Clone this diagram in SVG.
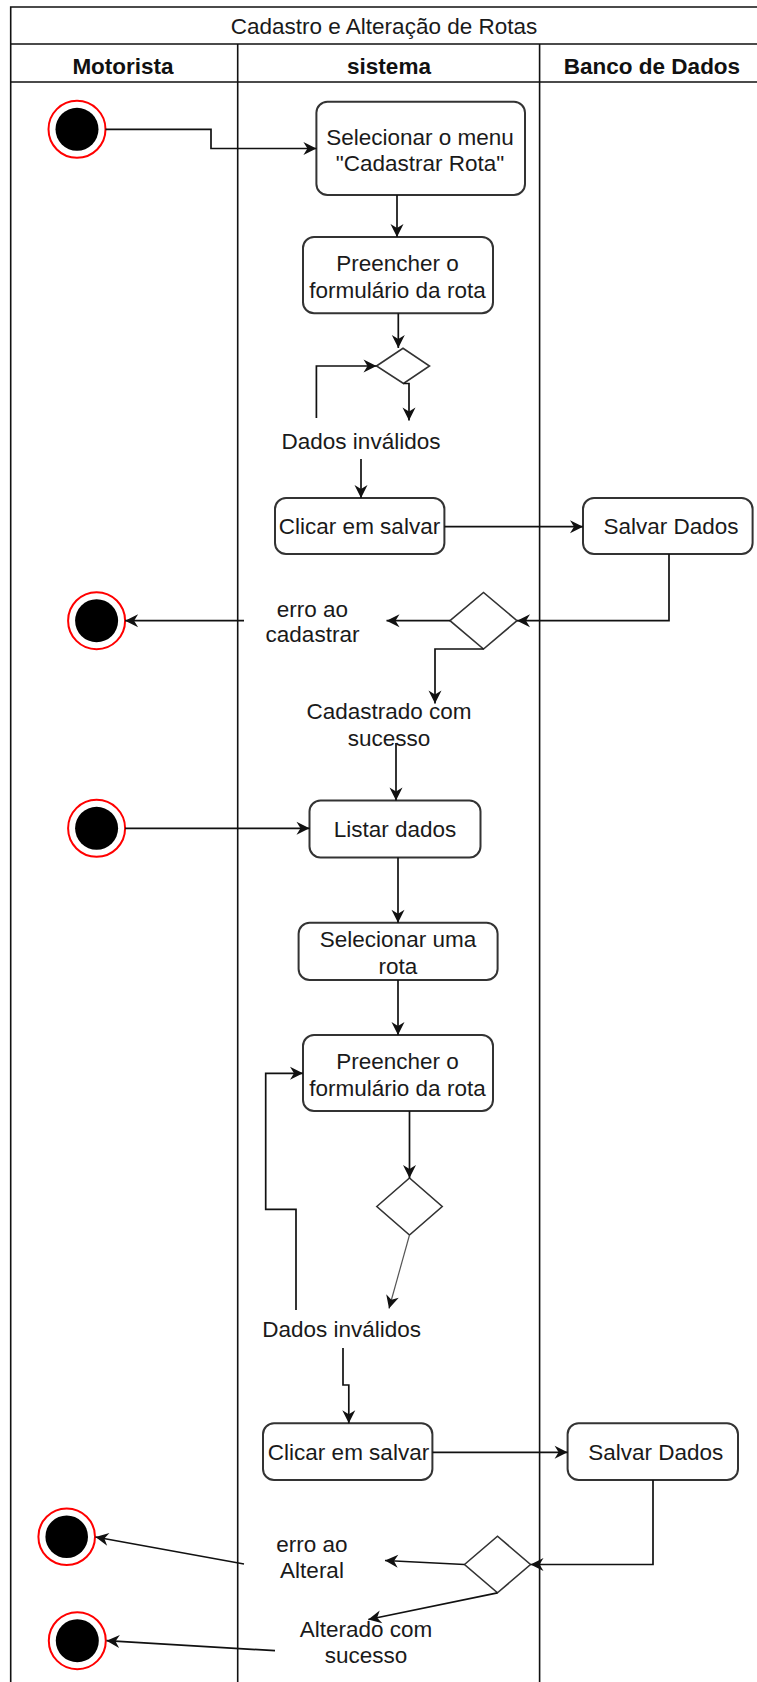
<svg xmlns="http://www.w3.org/2000/svg" width="757" height="1682" viewBox="0 0 757 1682">
<style>
text{font-family:"Liberation Sans",Arial,sans-serif;font-size:22.5px;fill:#1a1a1a;text-anchor:middle;dominant-baseline:central}
.hdr{font-weight:bold;fill:#111}
.lane{stroke:#111;stroke-width:1.6;fill:none}
.box{fill:#fff;stroke:#333;stroke-width:2}
.dia{fill:#fff;stroke:#333;stroke-width:1.6}
.ring{fill:#fff;stroke:#ff0000;stroke-width:2}
.dot{fill:#000}
.c{fill:none;stroke:#111;stroke-width:1.7;marker-end:url(#ah)}
.thin{fill:none;stroke:#555;stroke-width:1.2;marker-end:url(#ah)}
</style>
<defs>
<marker id="ah" markerUnits="userSpaceOnUse" markerWidth="16" markerHeight="16" refX="13" refY="6.5" orient="auto" overflow="visible">
<path d="M0,0 L13,6.5 L0,13 L4,6.5 z" fill="#111"/>
</marker>
</defs>
<rect width="757" height="1682" fill="#fff"/>
<g id="pool">
<path class="lane" d="M10.7,1682 V7 H757 M10.7,44 H757 M10.7,82 H757 M237.7,44 V1682 M539.6,44 V1682"/>
<text x="384" y="26">Cadastro e Alteração de Rotas</text>
<text class="hdr" x="123" y="66">Motorista</text>
<text class="hdr" x="389" y="66">sistema</text>
<text class="hdr" x="652" y="66">Banco de Dados</text>
</g>
<g id="start1"><circle class="ring" cx="77" cy="129.3" r="28.5"/><circle class="dot" cx="77" cy="129.3" r="21.5"/></g>
<g id="n1"><rect class="box" x="316.4" y="101.7" width="208.6" height="93.3" rx="11"/><text x="420" y="137">Selecionar o menu</text><text x="420" y="163">"Cadastrar Rota"</text></g>
<g id="n2"><rect class="box" x="303" y="237" width="190" height="76.3" rx="11"/><text x="397.5" y="263.3">Preencher o</text><text x="397.5" y="290">formulário da rota</text></g>
<g id="d1"><polygon class="dia" points="376.5,366 403,348.3 429.5,366 403.5,383.5"/></g>
<g id="l1"><text x="361" y="441.5">Dados inválidos</text></g>
<g id="n3"><rect class="box" x="275" y="498" width="169.4" height="56" rx="11"/><text x="359.5" y="526.7">Clicar em salvar</text></g>
<g id="n4"><rect class="box" x="583" y="498" width="169.6" height="56" rx="11"/><text x="671" y="526.7">Salvar Dados</text></g>
<g id="d2"><polygon class="dia" points="450,620.7 483.5,592.5 517,620.7 483.5,649"/></g>
<g id="l2"><text x="312.5" y="609.3">erro ao</text><text x="312.5" y="634.3">cadastrar</text></g>
<g id="end1"><circle class="ring" cx="96.6" cy="620.7" r="28.5"/><circle class="dot" cx="96.6" cy="620.7" r="21.5"/></g>
<g id="l3"><text x="389" y="711.7">Cadastrado com</text><text x="389" y="738.3">sucesso</text></g>
<g id="start2"><circle class="ring" cx="96.6" cy="828.3" r="28.5"/><circle class="dot" cx="96.6" cy="828.3" r="21.5"/></g>
<g id="n5"><rect class="box" x="309.5" y="800.5" width="171" height="57" rx="11"/><text x="395" y="829">Listar dados</text></g>
<g id="n6"><rect class="box" x="298.6" y="922.7" width="199" height="57.3" rx="11"/><text x="398" y="939.3">Selecionar uma</text><text x="398" y="966">rota</text></g>
<g id="n7"><rect class="box" x="303" y="1035" width="190" height="76" rx="11"/><text x="397.5" y="1061.7">Preencher o</text><text x="397.5" y="1088.3">formulário da rota</text></g>
<g id="d3"><polygon class="dia" points="376.8,1206.5 409.5,1178 442.2,1206.5 409.5,1235"/></g>
<g id="l4"><text x="341.7" y="1329.3">Dados inválidos</text></g>
<g id="n8"><rect class="box" x="263" y="1423.3" width="169.4" height="56.7" rx="11"/><text x="348.5" y="1452.3">Clicar em salvar</text></g>
<g id="n9"><rect class="box" x="567.6" y="1423.3" width="170.4" height="56.7" rx="11"/><text x="655.8" y="1452.3">Salvar Dados</text></g>
<g id="d4"><polygon class="dia" points="464.5,1564.5 497.5,1536.2 530.5,1564.5 497.5,1592.8"/></g>
<g id="l5"><text x="312" y="1544">erro ao</text><text x="312" y="1570">Alteral</text></g>
<g id="end2"><circle class="ring" cx="66.7" cy="1536.7" r="28.3"/><circle class="dot" cx="66.7" cy="1536.7" r="21.3"/></g>
<g id="l6"><text x="366" y="1629.3">Alterado com</text><text x="366" y="1655">sucesso</text></g>
<g id="end3"><circle class="ring" cx="77.3" cy="1640.7" r="28.5"/><circle class="dot" cx="77.3" cy="1640.7" r="21.5"/></g>
<g id="connectors">
<path class="c" d="M105.5,129.3 H211 V148.5 H316.4"/>
<path class="c" d="M397,195 V237"/>
<path class="c" d="M398.3,313.3 V348"/>
<path class="c" d="M403.5,383.5 H409 V420.5"/>
<path class="c" d="M316.4,418 V366 H376.5"/>
<path class="c" d="M361,459 V498"/>
<path class="c" d="M444.4,526.7 H583"/>
<path class="c" d="M669,554 V620.7 H517"/>
<path class="c" d="M450,620.7 H386.5"/>
<path class="c" d="M244,620.7 H125.1"/>
<path class="c" d="M483.5,649 H435 V703.5"/>
<path class="c" d="M396,743 V800.5"/>
<path class="c" d="M125.1,828.3 H309.5"/>
<path class="c" d="M398,857.5 V922.7"/>
<path class="c" d="M398,980 V1035"/>
<path class="c" d="M409.5,1111 V1178"/>
<path class="thin" d="M409.5,1235 L389,1308.5"/>
<path class="c" d="M296,1310 V1209.3 H265.7 V1073.3 H303"/>
<path class="c" d="M343,1348 V1385 H348.8 V1423.3"/>
<path class="c" d="M432.4,1452.3 H567.6"/>
<path class="c" d="M653,1480 V1564.5 H530.5"/>
<path class="c" d="M464.5,1564.5 L385,1560.5"/>
<path class="c" d="M244,1564 L95.5,1537"/>
<path class="c" d="M497.5,1592.8 L368.3,1619.5"/>
<path class="c" d="M275,1650.7 L106.5,1640.7"/>
</g>
</svg>
